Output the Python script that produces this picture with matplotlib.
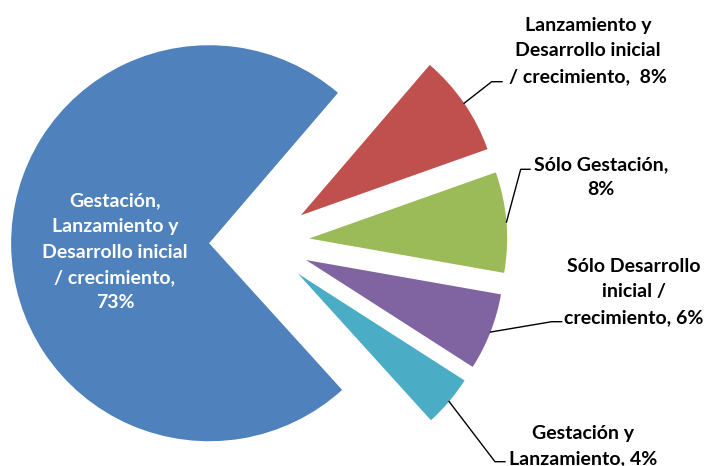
import numpy as np
import matplotlib.pyplot as plt

plt.rcParams['font.family'] = ['Lato', 'DejaVu Sans']

# slices in clockwise order, starting at the red one
labels = ['Lanzamiento y\nDesarrollo inicial\n/ crecimiento,',
          'Sólo Gestación,\n',
          'Sólo Desarrollo\ninicial /\ncrecimiento,',
          'Gestación y\nLanzamiento,',
          'Gestación,\nLanzamiento y\nDesarrollo inicial\n/ crecimiento,\n']
values = [8.3, 8.2, 6.3, 4.2, 73.0]
colors = ['#C0504D', '#9BBB59', '#8064A2', '#4BACC6', '#4F81BD']
explode = [0.243, 0.243, 0.243, 0.243, 0.263]

W, H = 704, 466
R = 198.0
cx, cy = 261.2, 242.5


def px(x, y):
    return (x - cx) / R, (cy - y) / R


fig = plt.figure(figsize=(W / 100, H / 100), dpi=100)
ax = fig.add_axes([0, 0, 1, 1])
wedges, _ = ax.pie(values, colors=colors, explode=explode, startangle=49.4,
                   counterclock=False, radius=1.0,
                   wedgeprops=dict(linewidth=0))
ax.set_xlim(-cx / R, (W - cx) / R)
ax.set_ylim(-(H - cy) / R, cy / R)
ax.set_aspect('auto')
ax.axis('off')

total = sum(values)
texts = []
for lab, v in zip(labels, values):
    sep = ' ' if not lab.endswith('\n') else ''
    texts.append(f'{lab}{sep}{v / total * 100:.0f}%')
texts[0] = texts[0].replace(', ', ',  ')

# label centres, leader elbows and ends (pixels)
label_pos = [(588, 51), (601, 177), (634, 292), (583, 446)]
elbows = [(491.7, 81.7), (520.7, 169.3), (551.7, 321.7), (495, 461.7)]
ends = [(502, 81.7), (530, 169.3), (561.7, 321.7), (505, 461.7)]

fs = 14
ls = 1.6

for i in range(4):
    w = wedges[i]
    mid = np.deg2rad((w.theta1 + w.theta2) / 2)
    ax0 = w.center[0] + w.r * np.cos(mid)
    ay0 = w.center[1] + w.r * np.sin(mid)
    ex, ey = px(*elbows[i])
    tx, ty = px(*ends[i])
    ax.plot([ax0, ex, tx], [ay0, ey, ty], color='black', lw=1.0)
    lx, ly = px(*label_pos[i])
    ax.text(lx, ly, texts[i], ha='center', va='center', fontsize=fs,
            fontweight='bold', color='black', linespacing=ls)

bx, by = px(115, 252)
ax.text(bx, by, texts[4], ha='center', va='center', fontsize=fs,
        fontweight='bold', color='white', linespacing=ls)

fig.savefig('out.png', dpi=100)
